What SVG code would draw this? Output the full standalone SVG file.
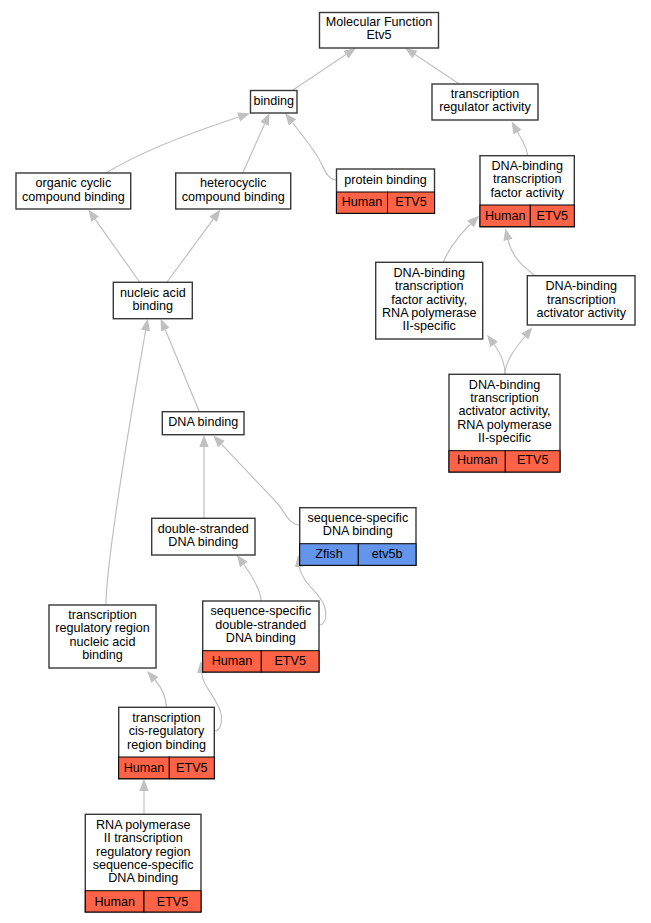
<svg xmlns="http://www.w3.org/2000/svg" width="651" height="923" viewBox="0 0 651 923">
<style>
text{font-family:"Liberation Sans",Arial,sans-serif;font-size:12.6px;fill:#000;text-anchor:middle}
.box{fill:#fff;stroke:#383838;stroke-width:1.4}
.hs{fill:#ff6347;stroke:#000;stroke-width:1}
.zf{fill:#6495ed;stroke:#000;stroke-width:1}
.e{fill:none;stroke:#c0c0c0;stroke-width:1.2;marker-end:url(#ah)}
</style>
<defs>
<marker id="ah" markerUnits="userSpaceOnUse" markerWidth="14" markerHeight="12" refX="0" refY="6" orient="auto" viewBox="0 0 14 12">
<path d="M0,1.3 L12,6 L0,10.7 Z" fill="#c0c0c0"/>
</marker>
</defs>
<rect width="651" height="923" fill="#fff"/>
<g id="edges">
<path class="e" d="M293,90 L346,54.6"/>
<path class="e" d="M458.5,83.5 L415,54.6"/>
<path class="e" d="M106,173 C140,152 190,133 238.6,117"/>
<path class="e" d="M242.7,173 L264.6,124"/>
<path class="e" d="M336.5,180 C326,180 324,166 316,154 C309,144 300,132 292.5,122.5"/>
<path class="e" d="M527.5,156 C527.5,148 522,140 517.5,132"/>
<path class="e" d="M140,282.5 L95.2,219.3"/>
<path class="e" d="M166.7,282.5 L213.3,219.2"/>
<path class="e" d="M199.3,411.7 L165.3,329.8"/>
<path class="e" d="M106,605 C106,560 130,420 145.6,330.6"/>
<path class="e" d="M204,518.3 L204,447"/>
<path class="e" d="M299.7,525 C289,525 285,512 278,504 C262,487 238,462 221.5,444.2"/>
<path class="e" d="M261,601 C261,590 252,576 243.8,564.5"/>
<path class="e" d="M319,625 C325,625 327,617 325,608 C322,596 310,588 305,580 C302,575 300,571 299.5,567"/>
<path class="e" d="M166.5,707.3 C166,697 162,688 155,680"/>
<path class="e" d="M214.3,731 C220,731 222,724 221.5,716 C220.5,705 210,693 205,684 C203,680 202,677 201.7,673"/>
<path class="e" d="M144,814.3 L144,791"/>
<path class="e" d="M443.5,262.3 C446,254 456,238 470.5,224"/>
<path class="e" d="M535,275.7 C525,268 512,258 508,240"/>
<path class="e" d="M505,374.3 C505,364 502,355 494.2,344.5"/>
<path class="e" d="M505,374.3 C505,362 514,350 524.8,336.5"/>
</g>
<g id="n_mf">
<rect class="box" x="319.5" y="12.5" width="119" height="35.5"/>
<text x="379" y="26">Molecular Function</text>
<text x="379" y="39">Etv5</text>
</g>
<g id="n_binding">
<rect class="box" x="250.5" y="90.5" width="46.5" height="22.5"/>
<text x="273.7" y="105">binding</text>
</g>
<g id="n_trreg">
<rect class="box" x="432" y="84" width="106" height="36"/>
<text x="485" y="98">transcription</text>
<text x="485" y="111">regulator activity</text>
</g>
<g id="n_organic">
<rect class="box" x="16" y="173" width="114.7" height="36"/>
<text x="73.4" y="187">organic cyclic</text>
<text x="73.4" y="200.5">compound binding</text>
</g>
<g id="n_hetero">
<rect class="box" x="175.7" y="173" width="115" height="36"/>
<text x="233.2" y="187">heterocyclic</text>
<text x="233.2" y="200.5">compound binding</text>
</g>
<g id="n_protein">
<rect class="box" x="336.5" y="169" width="98" height="44.3"/>
<rect class="hs" x="336.5" y="192" width="51" height="21.3"/>
<rect class="hs" x="387.5" y="192" width="47" height="21.3"/>
<text x="385.5" y="183.5">protein binding</text>
<text x="362" y="205.5">Human</text>
<text x="411" y="205.5">ETV5</text>
</g>
<g id="n_dbtf">
<rect class="box" x="480" y="155.7" width="94.3" height="71"/>
<rect class="hs" x="480" y="205" width="50.3" height="21.7"/>
<rect class="hs" x="530.3" y="205" width="44" height="21.7"/>
<text x="527.2" y="170">DNA-binding</text>
<text x="527.2" y="183.4">transcription</text>
<text x="527.2" y="196.7">factor activity</text>
<text x="505.2" y="219.6">Human</text>
<text x="552.3" y="219.6">ETV5</text>
</g>
<g id="n_dbtf2">
<rect class="box" x="375.7" y="262.3" width="107" height="76.7"/>
<text x="429.2" y="277">DNA-binding</text>
<text x="429.2" y="290.2">transcription</text>
<text x="429.2" y="303.5">factor activity,</text>
<text x="429.2" y="316.8">RNA polymerase</text>
<text x="429.2" y="330">II-specific</text>
</g>
<g id="n_act">
<rect class="box" x="527.3" y="275.7" width="107.7" height="49.3"/>
<text x="581.2" y="290.2">DNA-binding</text>
<text x="581.2" y="303.5">transcription</text>
<text x="581.2" y="316.8">activator activity</text>
</g>
<g id="n_act2">
<rect class="box" x="449" y="374.3" width="111" height="97.7"/>
<rect class="hs" x="449" y="450.7" width="56.3" height="21.3"/>
<rect class="hs" x="505.3" y="450.7" width="54.7" height="21.3"/>
<text x="504.5" y="388.7">DNA-binding</text>
<text x="504.5" y="402">transcription</text>
<text x="504.5" y="415.4">activator activity,</text>
<text x="504.5" y="428.7">RNA polymerase</text>
<text x="504.5" y="442">II-specific</text>
<text x="477.2" y="464">Human</text>
<text x="532.7" y="464">ETV5</text>
</g>
<g id="n_nucleic">
<rect class="box" x="113.3" y="282.3" width="79" height="36.4"/>
<text x="152.8" y="297">nucleic acid</text>
<text x="152.8" y="310.2">binding</text>
</g>
<g id="n_dna">
<rect class="box" x="162.3" y="411.7" width="81.7" height="23"/>
<text x="203.2" y="426">DNA binding</text>
</g>
<g id="n_ds">
<rect class="box" x="151.7" y="518.3" width="103.3" height="36.7"/>
<text x="203.3" y="533">double-stranded</text>
<text x="203.3" y="546">DNA binding</text>
</g>
<g id="n_ssdna">
<rect class="box" x="299.7" y="507.7" width="116.3" height="57.6"/>
<rect class="zf" x="299.7" y="543.7" width="58.6" height="21.6"/>
<rect class="zf" x="358.3" y="543.7" width="57.7" height="21.6"/>
<text x="357.8" y="522">sequence-specific</text>
<text x="357.8" y="535">DNA binding</text>
<text x="329" y="557.5">Zfish</text>
<text x="387.2" y="557.5">etv5b</text>
</g>
<g id="n_trrna">
<rect class="box" x="49" y="605" width="107" height="63"/>
<text x="102.5" y="619">transcription</text>
<text x="102.5" y="632.3">regulatory region</text>
<text x="102.5" y="645.6">nucleic acid</text>
<text x="102.5" y="658.9">binding</text>
</g>
<g id="n_ssds">
<rect class="box" x="202.7" y="601" width="116.3" height="71"/>
<rect class="hs" x="202.7" y="650.7" width="58.6" height="21.3"/>
<rect class="hs" x="261.3" y="650.7" width="57.7" height="21.3"/>
<text x="260.8" y="615.4">sequence-specific</text>
<text x="260.8" y="628.7">double-stranded</text>
<text x="260.8" y="642">DNA binding</text>
<text x="232" y="665">Human</text>
<text x="290.2" y="665">ETV5</text>
</g>
<g id="n_cis">
<rect class="box" x="118.7" y="707.3" width="95.6" height="71.4"/>
<rect class="hs" x="118.7" y="757" width="50.6" height="21.7"/>
<rect class="hs" x="169.3" y="757" width="45" height="21.7"/>
<text x="166.5" y="722">transcription</text>
<text x="166.5" y="735.4">cis-regulatory</text>
<text x="166.5" y="748.7">region binding</text>
<text x="144" y="772">Human</text>
<text x="191.8" y="772">ETV5</text>
</g>
<g id="n_rnapol">
<rect class="box" x="85.3" y="814.3" width="115.7" height="97.7"/>
<rect class="hs" x="85.3" y="890.7" width="58.7" height="21.3"/>
<rect class="hs" x="144" y="890.7" width="57" height="21.3"/>
<text x="143.2" y="829.4">RNA polymerase</text>
<text x="143.2" y="842.4">II transcription</text>
<text x="143.2" y="855.6">regulatory region</text>
<text x="143.2" y="868.8">sequence-specific</text>
<text x="143.2" y="881.6">DNA binding</text>
<text x="114.7" y="905.7">Human</text>
<text x="172.5" y="905.7">ETV5</text>
</g>
</svg>
